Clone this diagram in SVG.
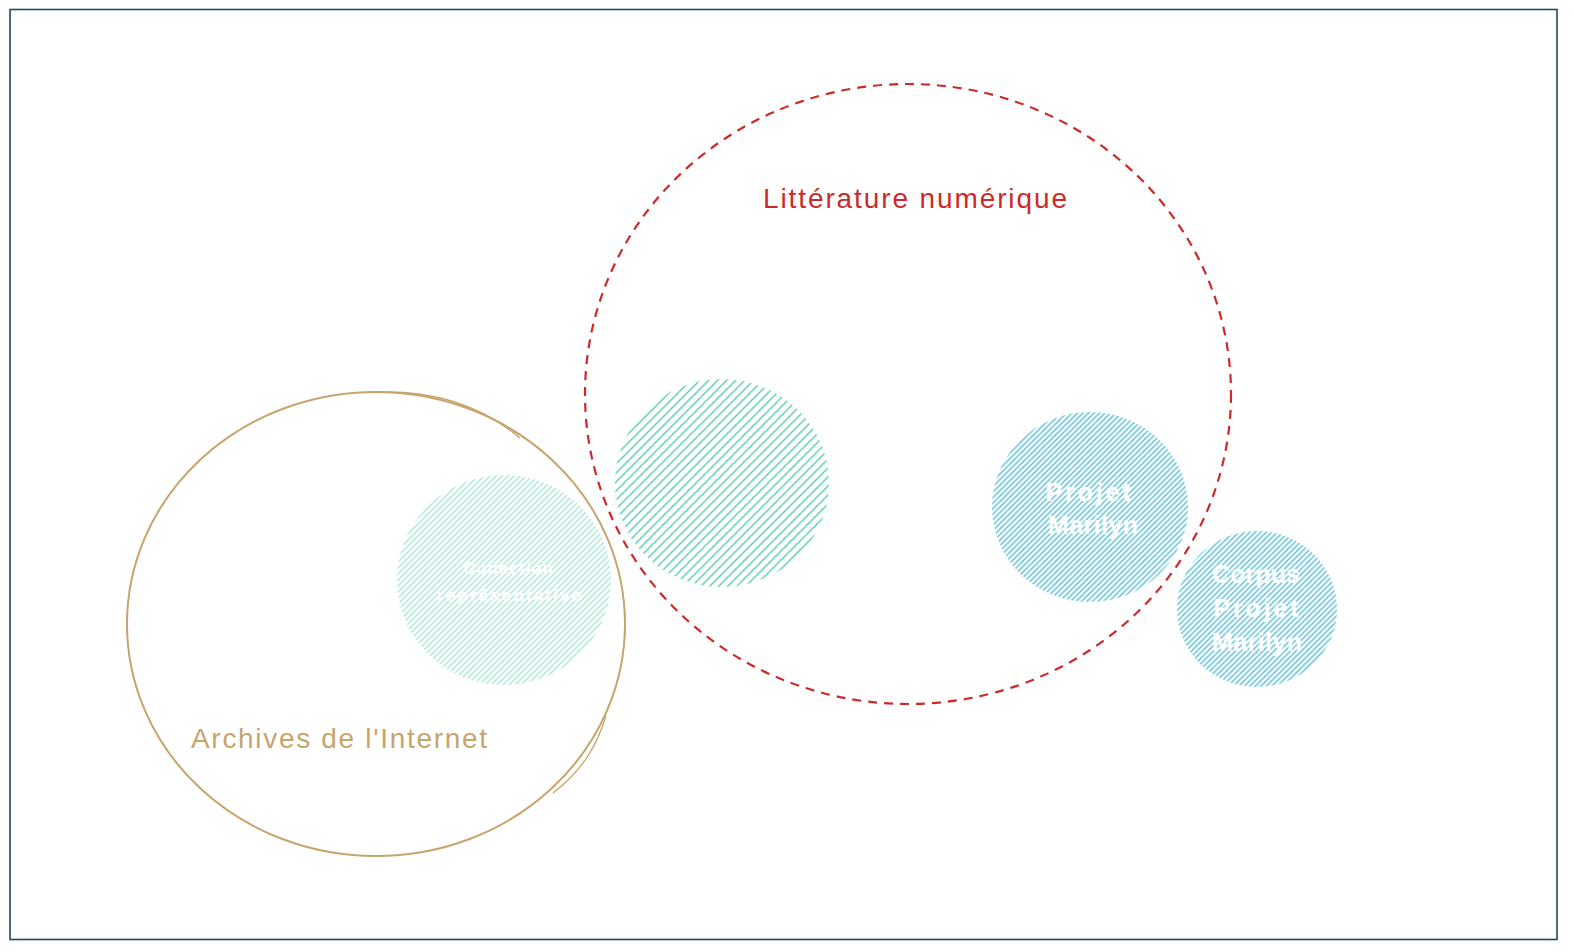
<svg xmlns="http://www.w3.org/2000/svg" width="1574" height="952" viewBox="0 0 1574 952">
<style>
.lbl{font-family:"Liberation Sans","DejaVu Sans",sans-serif;text-anchor:middle}
.wt{fill:#ffffff;font-weight:bold}
</style>
<defs>
<pattern id="hMintLight" width="6" height="6" patternUnits="userSpaceOnUse"><path d="M -1 7 L 7 -1 M -4 4 L 4 -4 M 2 10 L 10 2" stroke="#aee9da" stroke-width="1.5"/></pattern>
<pattern id="hMint" width="9" height="9" patternUnits="userSpaceOnUse"><path d="M -1 10 L 10 -1 M -5 5 L 5 -5 M 4 14 L 14 4" stroke="#63d3b2" stroke-width="1.5"/></pattern>
<pattern id="hBlue" width="5.5" height="5.5" patternUnits="userSpaceOnUse"><path d="M -1 6.5 L 6.5 -1 M -3.75 3.75 L 3.75 -3.75 M 1.75 9.25 L 9.25 1.75" stroke="#6cc6d9" stroke-width="1.6"/></pattern>
</defs>
<rect width="1574" height="952" fill="#ffffff"/>
<g id="frame"><rect x="10" y="9.5" width="1547" height="930" fill="none" stroke="#1f4a55" stroke-width="1.6"/></g>
<g id="archives">
<ellipse cx="376" cy="624" rx="249" ry="232" fill="none" stroke="#c7a46c" stroke-width="2"/>
<path d="M 380 392 C 430 391 480 404 520 438" fill="none" stroke="#c7a46c" stroke-width="1.5"/>
<path d="M 606 716 C 597 745 583 770 553 793" fill="none" stroke="#c7a46c" stroke-width="1.3"/>
<text class="lbl" x="339" y="748" font-size="28" fill="#c7a46c" textLength="296" lengthAdjust="spacing">Archives de l'Internet</text>
</g>
<g id="litterature">
<ellipse cx="908" cy="394" rx="323" ry="310" fill="none" stroke="#cc2a2a" stroke-width="2.2" stroke-dasharray="9 7"/>
<text class="lbl" x="915" y="208" font-size="28" fill="#cc2a2a" textLength="304" lengthAdjust="spacing">Littérature numérique</text>
</g>
<g id="collection">
<ellipse cx="504" cy="580" rx="107" ry="105" fill="url(#hMintLight)"/>
<text class="lbl wt" x="508" y="574" font-size="17" textLength="90" lengthAdjust="spacing">Collection</text>
<text class="lbl wt" x="509" y="601" font-size="17" textLength="144" lengthAdjust="spacing">représentative</text>
</g>
<g id="vert">
<ellipse cx="722" cy="483" rx="107" ry="104" fill="url(#hMint)"/>
</g>
<g id="projet">
<ellipse cx="1090" cy="507" rx="98" ry="95" fill="url(#hBlue)"/>
<text class="lbl wt" x="1088" y="501" font-size="25" textLength="85" lengthAdjust="spacing">Projet</text>
<text class="lbl wt" x="1093" y="534" font-size="25" textLength="90" lengthAdjust="spacing">Marilyn</text>
</g>
<g id="corpus">
<ellipse cx="1257" cy="609" rx="80" ry="78" fill="url(#hBlue)"/>
<text class="lbl wt" x="1256" y="583" font-size="25" textLength="88" lengthAdjust="spacing">Corpus</text>
<text class="lbl wt" x="1256" y="617" font-size="25" textLength="85" lengthAdjust="spacing">Projet</text>
<text class="lbl wt" x="1257" y="651" font-size="25" textLength="90" lengthAdjust="spacing">Marilyn</text>
</g>
<g id="connectors"></g>
</svg>
